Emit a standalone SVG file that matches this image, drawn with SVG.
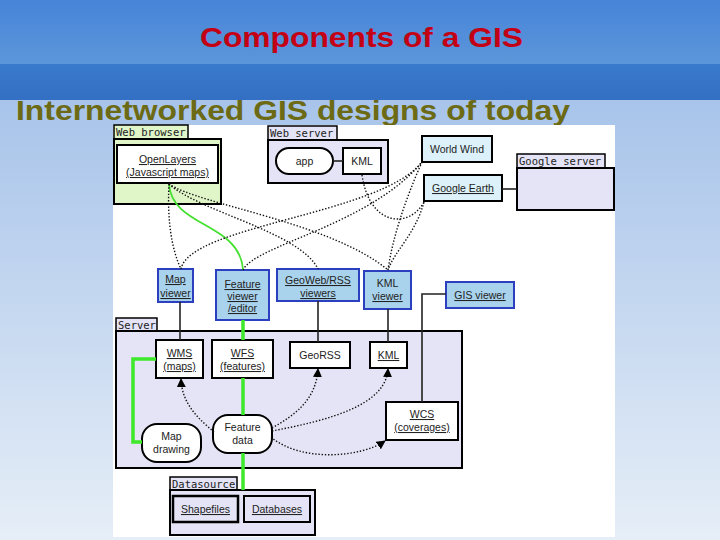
<svg xmlns="http://www.w3.org/2000/svg" width="720" height="540" viewBox="0 0 720 540">
<defs>
<linearGradient id="gTop" x1="0" y1="0" x2="0" y2="1"><stop offset="0" stop-color="#4684d8"/><stop offset="1" stop-color="#5c96da"/></linearGradient>
<linearGradient id="gBand" x1="0" y1="0" x2="0" y2="1"><stop offset="0" stop-color="#3a7acd"/><stop offset="1" stop-color="#336fc2"/></linearGradient>
<linearGradient id="gBody" x1="0" y1="0" x2="0" y2="1"><stop offset="0" stop-color="#a8c4ea"/><stop offset="1" stop-color="#e6eef7"/></linearGradient>
<marker id="arr" viewBox="0 0 10 10" refX="9" refY="5" markerWidth="9" markerHeight="9" orient="auto" markerUnits="userSpaceOnUse"><path d="M0,0 L10,5 L0,10 z" fill="#000"/></marker>
<style>
.box{stroke:#000;stroke-width:2}
.viewer{fill:#a9d2ec;stroke:#2b3fbf;stroke-width:2}
.white{fill:#fff;stroke:#000;stroke-width:2}
.lav{fill:#e4e4f6;stroke:#000;stroke-width:2}
.tab{fill:#e4e4f6;stroke:#000;stroke-width:1.5}
.t{font-family:"Liberation Sans","DejaVu Sans",sans-serif;font-size:10.5px;fill:#222;text-anchor:middle}
.u{text-decoration:underline}
.mono{font-family:"DejaVu Sans Mono","Liberation Mono",monospace;font-size:10.5px;fill:#222}
.dot{fill:none;stroke:#111;stroke-width:1.4;stroke-dasharray:1.4 1.8}
.solid{fill:none;stroke:#222;stroke-width:1.6}
.green{fill:none;stroke:#3ee82a;stroke-width:3.5}
.greenThin{fill:none;stroke:#44e030;stroke-width:1.8}
</style>
</defs>

<g id="background">
<rect x="0" y="0" width="720" height="64" fill="url(#gTop)"/>
<rect x="0" y="64" width="720" height="36" fill="url(#gBand)"/>
<rect x="0" y="100" width="720" height="440" fill="url(#gBody)"/>
<text x="200" y="47" font-family="'Liberation Sans',Arial,sans-serif" font-size="28" font-weight="bold" fill="#c40014" textLength="323" lengthAdjust="spacingAndGlyphs">Components of a GIS</text>
<text x="16" y="120" font-family="'Liberation Sans',Arial,sans-serif" font-size="28" font-weight="bold" fill="#6c6a14" textLength="554" lengthAdjust="spacingAndGlyphs">Internetworked GIS designs of today</text>
<rect x="113" y="125" width="502" height="412" fill="#fff"/>
</g>

<g id="web-browser">
<rect x="114" y="125" width="74" height="14" fill="#e0f5c8" stroke="#000" stroke-width="1.5"/>
<text x="116" y="136" class="mono">Web browser</text>
<rect x="114" y="139" width="107" height="65" fill="#e0f5c8" class="box"/>
</g>
<g id="openlayers">
<rect x="117" y="145" width="101" height="38" class="white"/>
<text x="167.5" y="163" class="t u">OpenLayers</text>
<text x="167.5" y="176" class="t u">(Javascript maps)</text>
</g>

<g id="web-server">
<rect x="268" y="126" width="69" height="14" class="tab"/>
<text x="270" y="137" class="mono">Web server</text>
<rect x="268" y="140" width="120" height="43" class="lav"/>
</g>
<g id="app">
<rect x="276" y="148" width="57" height="26" rx="13" class="white"/>
<text x="304.5" y="165" class="t">app</text>
</g>
<g id="kml-web">
<rect x="343" y="148" width="38" height="26" class="white"/>
<text x="362" y="165" class="t">KML</text>
</g>

<g id="world-wind">
<rect x="422" y="136" width="70" height="26" fill="#dcf1f9" class="box"/>
<text x="457" y="153" class="t">World Wind</text>
</g>
<g id="google-earth">
<rect x="424" y="175" width="78" height="26" fill="#dcf1f9" class="box"/>
<text x="463" y="192" class="t u">Google Earth</text>
</g>
<g id="google-server">
<rect x="517" y="154" width="88" height="14" class="tab"/>
<text x="519" y="165" class="mono">Google server</text>
<rect x="517" y="168" width="97" height="42" class="lav"/>
</g>

<g id="map-viewer">
<rect x="158" y="269" width="35" height="33" class="viewer"/>
<text x="175.5" y="283" class="t u">Map</text>
<text x="175.5" y="297" class="t u">viewer</text>
</g>
<g id="feature-viewer">
<rect x="216" y="270" width="53" height="50" class="viewer"/>
<text x="242.5" y="288" class="t u">Feature</text>
<text x="242.5" y="300" class="t u">viewer</text>
<text x="242.5" y="312" class="t u">/editor</text>
</g>
<g id="geoweb-viewers">
<rect x="277" y="269" width="82" height="32" class="viewer"/>
<text x="318" y="284" class="t u">GeoWeb/RSS</text>
<text x="318" y="297" class="t u">viewers</text>
</g>
<g id="kml-viewer">
<rect x="364" y="271" width="47" height="38" class="viewer"/>
<text x="387.5" y="287" class="t">KML</text>
<text x="387.5" y="300" class="t u">viewer</text>
</g>
<g id="gis-viewer">
<rect x="446" y="282" width="68" height="26" class="viewer"/>
<text x="480" y="299" class="t u">GIS viewer</text>
</g>

<g id="server">
<rect x="116" y="318" width="41" height="13" class="tab"/>
<text x="118" y="329" class="mono">Server</text>
<rect x="116" y="331" width="346" height="137" class="lav"/>
</g>
<g id="wms">
<rect x="156" y="340" width="47" height="38" class="white"/>
<text x="179.5" y="357" class="t u">WMS</text>
<text x="179.5" y="370" class="t u">(maps)</text>
</g>
<g id="wfs">
<rect x="212" y="340" width="61" height="38" class="white"/>
<text x="242.5" y="357" class="t u">WFS</text>
<text x="242.5" y="370" class="t u">(features)</text>
</g>
<g id="georss">
<rect x="290" y="342" width="60" height="26" class="white"/>
<text x="320" y="359" class="t">GeoRSS</text>
</g>
<g id="kml">
<rect x="370" y="342" width="37" height="26" class="white"/>
<text x="388.5" y="359" class="t u">KML</text>
</g>
<g id="wcs">
<rect x="386" y="402" width="72" height="38" class="white"/>
<text x="422" y="418" class="t u">WCS</text>
<text x="422" y="431" class="t u">(coverages)</text>
</g>
<g id="map-drawing">
<rect x="142" y="424" width="59" height="38" rx="15" class="white"/>
<text x="171.5" y="440" class="t">Map</text>
<text x="171.5" y="453" class="t">drawing</text>
</g>
<g id="feature-data">
<rect x="213" y="415" width="59" height="38" rx="15" class="white"/>
<text x="242.5" y="431" class="t">Feature</text>
<text x="242.5" y="444" class="t">data</text>
</g>

<g id="datasource">
<rect x="170" y="477" width="67" height="13" class="tab"/>
<text x="172" y="488" class="mono">Datasource</text>
<rect x="170" y="490" width="145" height="45" class="lav"/>
</g>
<g id="shapefiles">
<rect x="173" y="496" width="65" height="26" fill="#e4e4f6" stroke="#000" stroke-width="2.5"/>
<text x="205.5" y="513" class="t u">Shapefiles</text>
</g>
<g id="databases">
<rect x="244" y="496" width="66" height="26" class="lav"/>
<text x="277" y="513" class="t u">Databases</text>
</g>

<g id="connectors">
<path class="solid" d="M333,161 H343"/>
<path class="solid" d="M502,189 H517"/>
<path class="solid" d="M180,302 V340"/>
<path class="solid" d="M318,301 V342"/>
<path class="solid" d="M388,309 V342"/>
<path class="solid" d="M446,294 H422 V402"/>

<path class="greenThin" d="M169,184 C172,228 240,222 243,270"/>
<path class="green" d="M243,320 V340"/>
<path class="green" d="M243,378 V415"/>
<path class="green" d="M243,453 V490"/>
<path class="green" d="M156,359 H133 V442 H142"/>

<path class="dot" d="M169,184 C167,222 172,250 181,269"/>
<path class="dot" d="M169,184 C200,212 300,232 318,269"/>
<path class="dot" d="M169,184 C200,205 330,222 388,270"/>
<path class="dot" d="M181,269 C190,225 380,215 422,162"/>
<path class="dot" d="M243,270 C255,245 370,225 422,162"/>
<path class="dot" d="M422,162 C405,200 392,240 388,270"/>
<path class="dot" d="M424,202 C415,235 395,250 388,270"/>
<path class="dot" d="M362,175 C370,228 410,228 424,202"/>

<path class="dot" marker-end="url(#arr)" d="M214,432 C200,420 182,405 181,379"/>
<path class="dot" marker-end="url(#arr)" d="M272,428 C295,415 316,400 318,369"/>
<path class="dot" marker-end="url(#arr)" d="M272,431 C330,420 386,405 388,369"/>
<path class="dot" marker-end="url(#arr)" d="M271,437 C300,462 360,458 385,441"/>
</g>
</svg>
